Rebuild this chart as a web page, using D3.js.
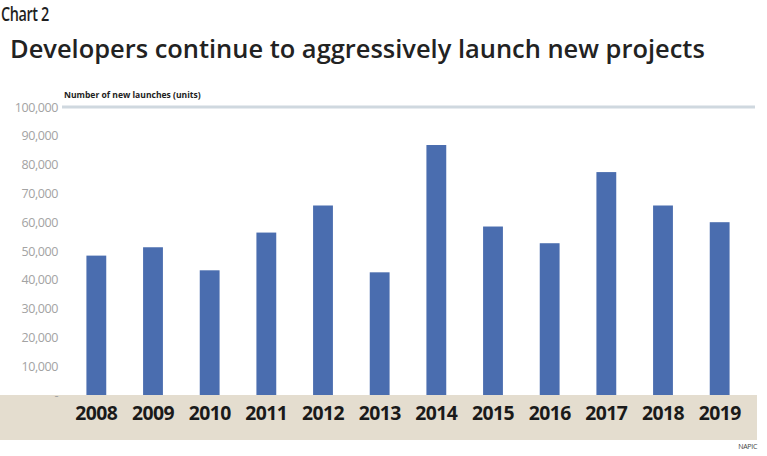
<!DOCTYPE html>
<html>
<head>
<meta charset="utf-8">
<script src="https://cdn.jsdelivr.net/npm/d3@7"></script>
<style>
  body { margin: 0; background: #fff; }
  svg { display: block; }
</style>
</head>
<body>
<svg id="chart" width="767" height="456"></svg>
<script>
const years = ['2008', '2009', '2010', '2011', '2012', '2013', '2014', '2015', '2016', '2017', '2018', '2019']
const launches = [48400, 51300, 43300, 56400, 65800, 42600, 86800, 58500, 52700, 77400, 65800, 60000]
const yTicks = [0, 10000, 20000, 30000, 40000, 50000, 60000, 70000, 80000, 90000, 100000]

const sans = '"Open Sans", "Noto Sans", sans-serif'
const svg = d3.select('#chart')

// fit a text node to a target width by adjusting the font size
function fitWidth(sel, target) {
  const size = parseFloat(sel.attr('font-size'))
  const w = sel.node().getComputedTextLength()
  sel.attr('font-size', size * target / w)
}

// squeeze a text node horizontally (no condensed face available)
function squeeze(sel, target) {
  sel.each(function () {
    const t = d3.select(this)
    const w = this.getComputedTextLength()
    const k = target / w
    const x0 = +t.attr('x') || 0
    t.attr('transform', `translate(${x0 * (1 - k)},0) scale(${k},1)`)
  })
}

svg.append('text')
  .attr('x', 1).attr('y', 21)
  .attr('font-family', sans)
  .attr('font-size', 19).attr('font-weight', 600)
  .attr('fill', '#1f1f1f')
  .attr('letter-spacing', -0.5)
  .text('Chart 2')
  .call(squeeze, 48)

svg.append('text')
  .attr('x', 10).attr('y', 58)
  .attr('font-family', sans)
  .attr('font-size', 26).attr('font-weight', 600)
  .attr('fill', '#222')
  .text('Developers continue to aggressively launch new projects')
  .call(fitWidth, 695)

const x = d3.scaleBand()
  .domain(years)
  .range([68, 748])
  .paddingInner(0.65)
  .paddingOuter(0.325)

const y = d3.scaleLinear()
  .domain([0, 100000])
  .range([395, 107])

// bars
svg.append('g')
  .selectAll('rect')
  .data(launches)
  .join('rect')
  .attr('x', (d, i) => x(years[i]))
  .attr('y', d => y(d))
  .attr('width', x.bandwidth())
  .attr('height', d => y(0) - y(d))
  .attr('fill', '#4a6daf')

// top rule
svg.append('line')
  .attr('x1', 62).attr('x2', 755)
  .attr('y1', y(100000)).attr('y2', y(100000))
  .attr('stroke', '#cfd8df')
  .attr('stroke-width', 3)

svg.append('text')
  .attr('x', 64).attr('y', 98)
  .attr('font-family', sans)
  .attr('font-size', 8).attr('font-weight', 'bold')
  .attr('fill', '#222')
  .text('Number of new launches (units)')
  .call(squeeze, 137)

// beige band behind the category labels
svg.append('rect')
  .attr('x', 0).attr('y', y(0))
  .attr('width', 757).attr('height', 45)
  .attr('fill', '#e4ddcf')

// y axis labels
const yAxis = svg.append('g')
  .attr('transform', 'translate(58,0)')
  .call(d3.axisLeft(y)
    .tickValues(yTicks)
    .tickSize(0)
    .tickPadding(0)
    .tickFormat(d => d === 0 ? '-' : d3.format(',')(d)))
yAxis.select('.domain').remove()
yAxis.selectAll('text')
  .attr('font-family', sans)
  .attr('font-size', 12.5)
  .attr('fill', '#a3a3a3')
  .attr('letter-spacing', -0.4)

const xAxis = svg.append('g')
  .attr('transform', `translate(0,${y(0)})`)
  .call(d3.axisBottom(x).tickSize(0).tickPadding(0))
xAxis.select('.domain').remove()
xAxis.selectAll('text')
  .attr('dy', 0)
  .attr('y', 25)
  .attr('font-family', sans)
  .attr('font-size', 20)
  .attr('font-weight', 'bold')
  .attr('fill', '#1a1a1a')
  .attr('letter-spacing', -0.6)
  .each(function () {
    const w = this.getComputedTextLength()
    d3.select(this).attr('transform', `scale(${42 / w},1)`)
  })

svg.append('text')
  .attr('x', 757).attr('y', 449)
  .attr('text-anchor', 'end')
  .attr('font-family', sans)
  .attr('font-size', 7)
  .attr('fill', '#444')
  .attr('letter-spacing', -0.3)
  .text('NAPIC')
</script>
</body>
</html>
